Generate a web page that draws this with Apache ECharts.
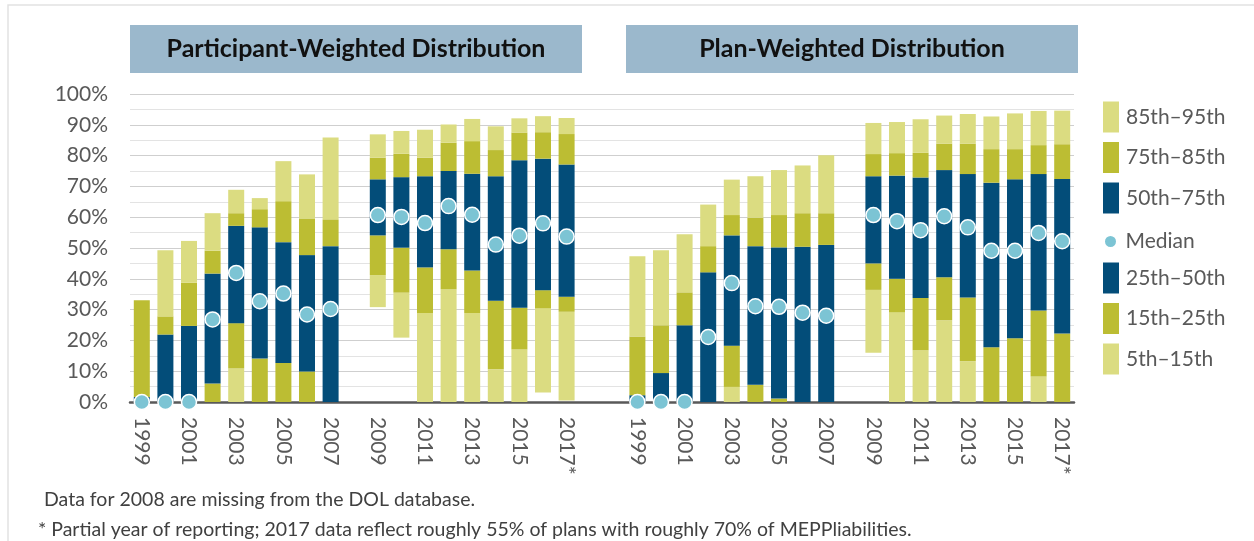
<!DOCTYPE html>
<html>
<head>
<meta charset="utf-8">
<script src="https://cdn.jsdelivr.net/npm/echarts@6/dist/echarts.min.js"></script>
<style>
  html, body { margin: 0; padding: 0; background: #fff; }
  #chart { width: 1254px; height: 541px; }
</style>
</head>
<body>
<div id="chart"></div>
<script>
// years shown in each panel (2008 missing)
let years = ['1999','2000','2001','2002','2003','2004','2005','2006','2007','2008',
             '2009','2010','2011','2012','2013','2014','2015','2016','2017*'];

// participant-weighted percentiles (%)
let partP5  = [0,0,0,0,0,0,0,0,0,null,30.8,20.9,0,0,0,0,0,3.1,0.5];
let partP15 = [0,0,0,0,10.9,0,0,0,0,null,41.2,35.5,28.9,36.6,28.9,10.6,17.1,30.4,29.3];
let partP25 = [0,0,0,6.0,25.6,14.1,12.7,9.9,0,null,54.1,50.1,43.7,49.6,42.7,32.9,30.6,36.3,34.2];
let partP50 = [0,0,0,26.8,41.9,32.7,35.2,28.4,30.2,null,60.7,60.1,58.1,63.6,60.8,51.1,54.0,58.0,53.7];
let partP75 = [1.6,21.9,24.7,41.7,57.2,56.7,51.9,47.7,50.6,null,72.3,73.0,73.3,75.0,74.1,73.3,78.5,79.0,77.1];
let partP85 = [33,27.8,38.7,49.1,61.3,62.6,65.2,59.6,59.3,null,79.3,80.6,79.3,84.2,84.7,81.8,87.5,87.6,87.0];
let partP95 = [33,49.3,52.3,61.3,68.9,66.2,78.2,73.9,85.9,null,86.9,88.0,88.4,90.1,91.9,89.5,92.1,92.8,92.2];

// plan-weighted percentiles (%)
let planP5  = [0,0,0,0,0,0,0,0,0,null,16.0,0,0,0,0,0,0,0,0];
let planP15 = [0,0,0,0,4.9,0,0,0,0,null,36.4,29.1,16.8,26.5,13.2,0,0,8.3,0];
let planP25 = [0,0,0,0,18.3,5.6,1.1,0,0,null,45.0,40.0,33.8,40.5,33.9,17.8,20.7,29.7,22.2];
let planP50 = [0,0,0,21.1,38.6,31.1,30.9,29.0,28.0,null,60.7,58.7,55.8,60.3,56.7,49.1,49.1,54.9,52.2];
let planP75 = [2.2,9.4,24.9,42.1,54.1,50.6,50.2,50.4,51.0,null,73.3,73.5,72.9,75.3,74.0,71.2,72.3,74.0,72.4];
let planP85 = [21.3,24.9,35.6,50.6,60.7,59.8,60.7,61.3,61.3,null,80.5,80.8,80.9,83.9,83.9,82.1,82.1,83.4,83.7];
let planP95 = [47.3,49.3,54.5,64.1,72.2,73.3,75.3,76.8,80.1,null,90.6,90.9,91.8,93.0,93.5,92.7,93.7,94.5,94.6];

let yTicks = [0,10,20,30,40,50,60,70,80,90,100];

const LIGHT = '#dbdc81', OLIVE = '#bcbd33', BLUE = '#034d79', DOT = '#7cc4d4';
const TXT = '#595959';

// one category axis: panel A, two blank slots, panel B
let cats = [];
years.forEach((y)=>{ cats.push('a' + y); });
cats.push('gap1', 'gap2');
years.forEach((y)=>{ cats.push('b' + y); });

let join = (a, b) => a.concat([null, null], b);
let P5 = join(partP5, planP5), P15 = join(partP15, planP15), P25 = join(partP25, planP25),
    P50 = join(partP50, planP50), P75 = join(partP75, planP75), P85 = join(partP85, planP85),
    P95 = join(partP95, planP95);
let diff = (hi, lo) => hi.map((v, i) => (v == null || lo[i] == null) ? null : +(v - lo[i]).toFixed(2));

let band = (name, data, color) => ({
    name: name, type: 'bar', stack: 'd', barWidth: 16, data: data,
    itemStyle: { color: color }, emphasis: { disabled: true }
});

let legendBox = (top, names, icon, h) => ({
    orient: 'vertical', left: 1103, top: top, padding: 0,
    itemWidth: 16, itemHeight: h, itemGap: 9.5, selectedMode: false,
    textStyle: { fontSize: 21, color: TXT, padding: [0, 0, 0, 2] },
    data: names.map((n)=>({ name: n, icon: icon }))
});

let chart = echarts.init(document.getElementById('chart'));

let option = {
    animation: false,
    textStyle: { fontFamily: 'Lato' },
    grid: { left: 130, right: 180, top: 94, bottom: 139 },
    legend: [
        legendBox(101.5, ['85th–95th', '75th–85th', '50th–75th'], 'rect', 31),
        legendBox(231, ['Median'], 'circle', 13),
        legendBox(262.5, ['25th–50th', '15th–25th', '5th–15th'], 'rect', 31)
    ],
    xAxis: {
        type: 'category', data: cats,
        axisLine: { lineStyle: { color: '#595959', width: 2.5 } },
        axisTick: { show: false },
        axisLabel: {
            rotate: -90, margin: 15, fontSize: 21, color: TXT, interval: 0,
            formatter: (v)=>{
                if (v.indexOf('gap') === 0) return '';
                let y = v.slice(1);
                return (parseInt(y) % 2 === 1) ? y : '';
            }
        }
    },
    yAxis: {
        type: 'value', min: 0, max: 100, interval: 10,
        axisLine: { show: false }, axisTick: { show: false },
        axisLabel: {
            margin: 22, fontSize: 21, color: TXT,
            formatter: (v)=> yTicks.indexOf(v) >= 0 ? v + '%' : ''
        },
        splitLine: { lineStyle: { color: '#cfcfcf', width: 1 } },
        minorTick: { show: false, splitNumber: 2 },
        minorSplitLine: { show: true, lineStyle: { color: '#e3e3e3', width: 1 } }
    },
    series: [
        { name: 'base', type: 'bar', stack: 'd', barWidth: 16, data: P5,
          itemStyle: { color: 'transparent' }, emphasis: { disabled: true } },
        band('5th–15th', diff(P15, P5), LIGHT),
        band('15th–25th', diff(P25, P15), OLIVE),
        band('25th–50th', diff(P50, P25), BLUE),
        band('50th–75th', diff(P75, P50), BLUE),
        band('75th–85th', diff(P85, P75), OLIVE),
        band('85th–95th', diff(P95, P85), LIGHT),
        { name: 'Median', type: 'scatter', data: P50, symbol: 'circle', symbolSize: 15, z: 5,
          itemStyle: { color: DOT, borderColor: '#fff', borderWidth: 1.5, opacity: 1 } }
    ],
    graphic: [
        { type: 'rect', z: -10, shape: { x: 8, y: 5, width: 1400, height: 700 },
          style: { fill: 'none', stroke: '#e2e2e2', lineWidth: 1.5 } },
        { type: 'rect', shape: { x: 130, y: 25, width: 452, height: 48 }, style: { fill: '#9bb8cc' } },
        { type: 'text', x: 356, y: 49, style: { text: 'Participant-Weighted Distribution', fill: '#111',
          font: 'bold 25px Lato', align: 'center', verticalAlign: 'middle' } },
        { type: 'rect', shape: { x: 626, y: 25, width: 452, height: 48 }, style: { fill: '#9bb8cc' } },
        { type: 'text', x: 852, y: 49, style: { text: 'Plan-Weighted Distribution', fill: '#111',
          font: 'bold 25px Lato', align: 'center', verticalAlign: 'middle' } },
        { type: 'text', x: 44, y: 500, style: { text: 'Data for 2008 are missing from the DOL database.',
          fill: '#404040', font: '19.5px Lato', verticalAlign: 'middle' } },
        { type: 'text', x: 38, y: 530, style: { text: '* Partial year of reporting; 2017 data reflect roughly 55% of plans with roughly 70% of MEPPliabilities.',
          fill: '#404040', font: '19.5px Lato', verticalAlign: 'middle' } }
    ]
};

chart.setOption(option);
</script>
</body>
</html>
